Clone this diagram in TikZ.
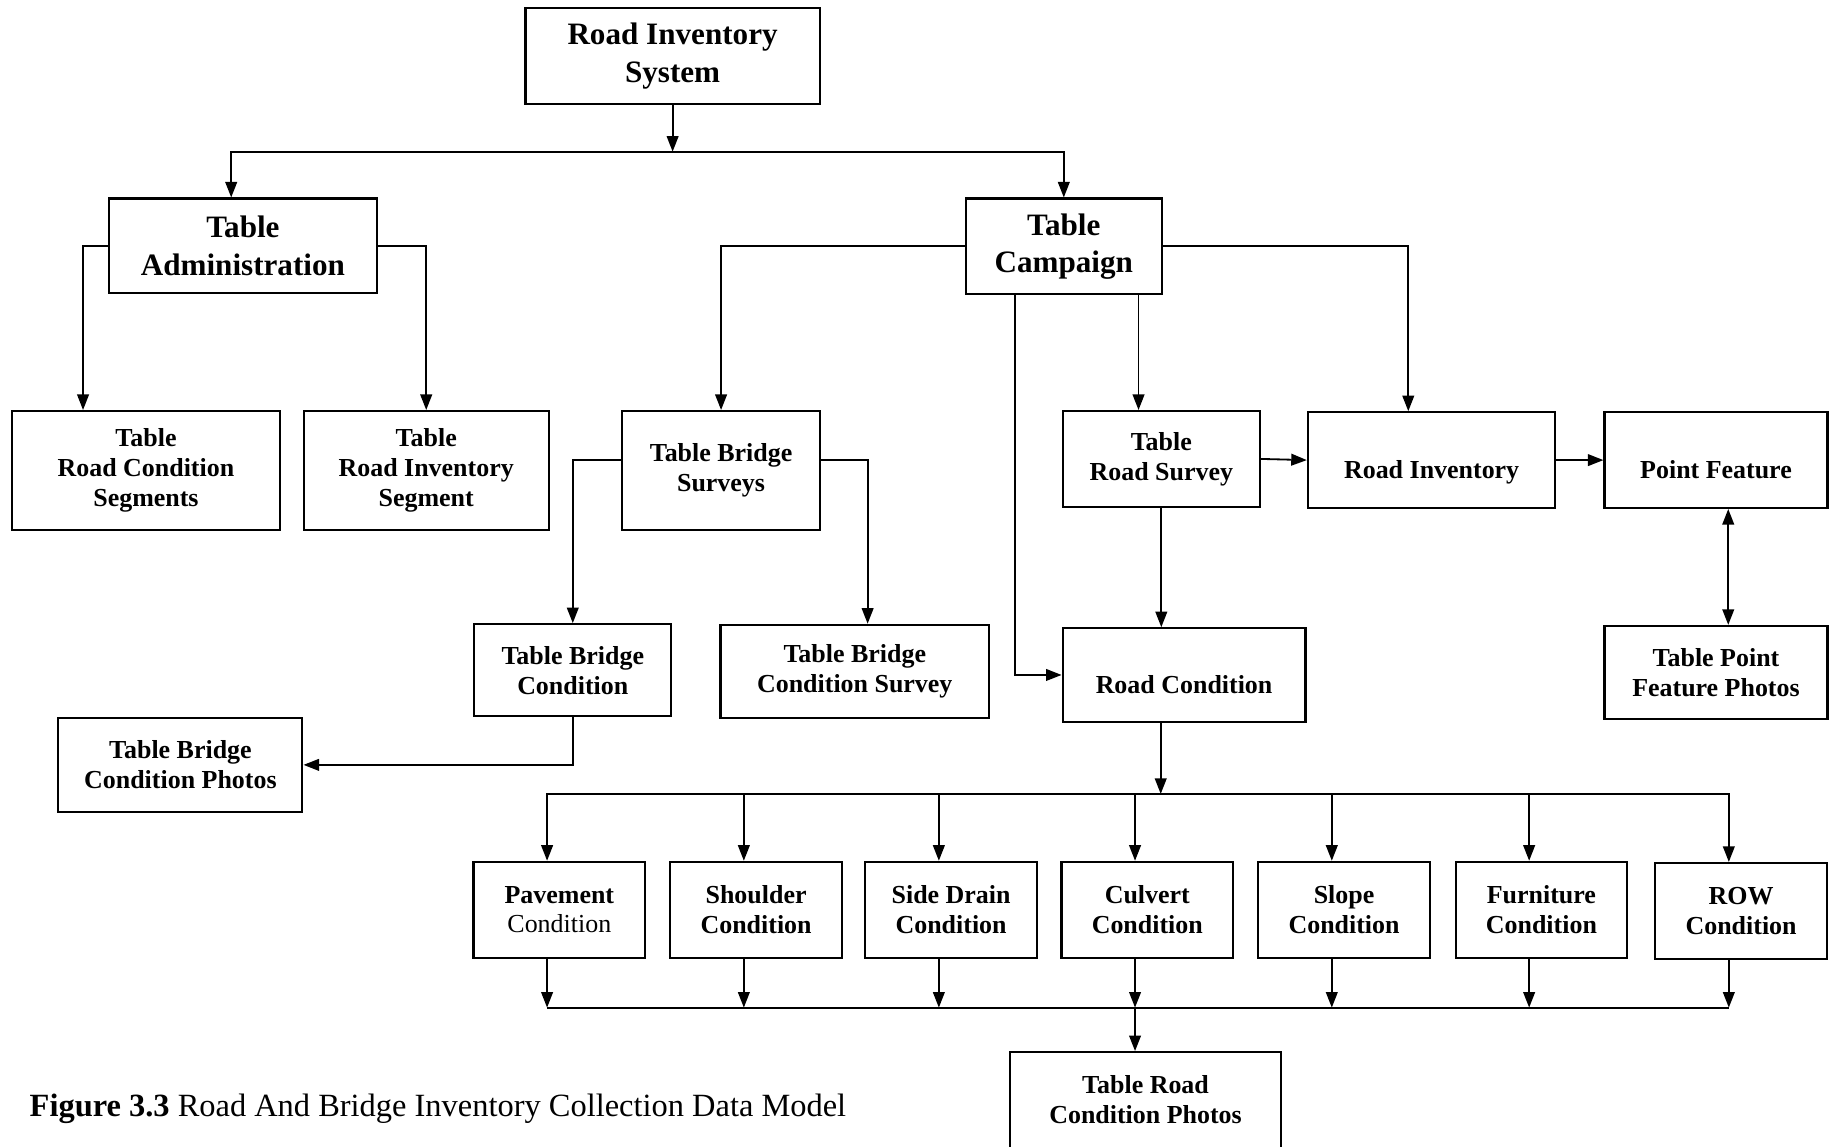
\documentclass[tikz,border=0pt]{standalone}
\usepackage{fontspec}
\setmainfont{Liberation Serif}
\usetikzlibrary{arrows.meta,calc}
\tikzset{
  rbox/.style={draw,line width=0.8pt,align=center,inner sep=2pt,
    font=\fontsize{10}{11.5}\selectfont\bfseries},
  rbig/.style={rbox,font=\fontsize{12}{14.4}\selectfont\bfseries},
  rone/.style={rbox,text height=16pt,text depth=2pt},
  rcnd/.style={rbox,minimum width=66.15pt,minimum height=36.9pt},
  rflow/.style={-{Triangle[length=6pt,width=4.5pt]},line width=0.7pt},
  rboth/.style={{Triangle[length=6pt,width=4.5pt]}-{Triangle[length=6pt,width=4.5pt]},line width=0.7pt},
  rline/.style={line width=0.7pt},
}
\begin{document}
\begin{tikzpicture}[x=0.45pt,y=-0.45pt]
\useasboundingbox (0,0) rectangle (1568,982);
% top levels
\node[rbig,minimum width=113.4pt,minimum height=36.9pt] (sys) at (576,48) {Road Inventory\\System};
\node[rbig,minimum width=103.5pt,minimum height=36.45pt] (admin) at (208,210.5) {Table\\Administration};
\node[rbig,minimum width=75.6pt,minimum height=36.9pt] (camp) at (911,211) {Table\\Campaign};
\node[rbox,minimum width=103.5pt,minimum height=45.9pt] (rcseg) at (125,403) {Table\\Road Condition\\Segments};
\node[rbox,minimum width=94.5pt,minimum height=45.9pt] (riseg) at (365,403) {Table\\Road Inventory\\Segment};
\node[rbox,minimum width=76.05pt,minimum height=45.9pt] (bsurv) at (617.5,403) {Table Bridge\\Surveys};
\node[rbox,minimum width=76.05pt,minimum height=36.9pt] (rsurv) at (994.5,393) {Table\\Road Survey};
\node[rone,minimum width=95.4pt,minimum height=36.9pt] (rinv) at (1226,394) {Road Inventory};
\node[rone,minimum width=85.95pt,minimum height=36.9pt] (pfeat) at (1469.5,394) {Point Feature};
\node[rbox,minimum width=85.95pt,minimum height=36pt] (pfphoto) at (1469.5,576) {Table Point\\Feature Photos};
\node[rbox,minimum width=76.05pt,minimum height=35.55pt] (bcond) at (490.5,574) {Table Bridge\\Condition};
\node[rbox,minimum width=103.5pt,minimum height=36pt] (bcsurv) at (732,575) {Table Bridge\\Condition Survey};
\node[rone,minimum width=93.6pt,minimum height=36pt] (rcond) at (1014,578) {Road Condition};
\node[rbox,minimum width=94.05pt,minimum height=36pt] (bcphoto) at (154.5,655) {Table Bridge\\Condition Photos};
% condition row
\node[rcnd] (pave) at (479,779) {Pavement\\{\mdseries Condition}};
\node[rcnd] (shld) at (647.5,779) {Shoulder\\Condition};
\node[rcnd] (sdrn) at (814.5,779) {Side Drain\\Condition};
\node[rcnd] (culv) at (982.5,779) {Culvert\\Condition};
\node[rcnd] (slope) at (1151,779) {Slope\\Condition};
\node[rcnd] (furn) at (1320,779) {Furniture\\Condition};
\node[rcnd] (row) at (1491,780) {ROW\\Condition};
\node[rbox,minimum width=104.4pt,minimum height=36.9pt] (rcphoto) at (981,942) {Table Road\\Condition Photos};
\node[anchor=base west,inner sep=0pt,font=\fontsize{12.5}{15}\selectfont] (cap) at (25,956) {\textbf{Figure 3.3} Road And Bridge Inventory Collection Data Model};

\coordinate (tbus) at ($(sys.south)+(0,40)$);
\coordinate (cbus) at ($(rcond.south)+(-20,61)$);
\coordinate (lbus) at ($(culv.south)+(-10.5,42)$);
\coordinate (ctap) at ($(camp.south)+(64,0)$);

\draw[rflow] (sys.south) -- (tbus);
\draw[rflow] (tbus) -| ($(admin.north)+(-10,0)$);
\draw[rflow] (tbus) -| (camp.north);
\draw[rflow] (admin.west) -| ($(rcseg.north west)+(62,0)$);
\draw[rflow] (admin.east) -| (riseg.north);
\draw[rflow] (camp.west) -| (bsurv.north);
\draw[rflow] (ctap) -- (ctap |- rsurv.north);
\draw[rflow] (camp.east) -| ($(rinv.north)+(-20,0)$);
\draw[rflow] ($(camp.south)+(-42,0)$) |- (rcond.west);
\draw[rflow] (rsurv.east) -- (rinv.west);
\draw[rflow] (rinv.east) -- (pfeat.west);
\draw[rboth] ($(pfeat.south)+(10.5,0)$) -- ($(pfphoto.north)+(10.5,0)$);
\draw[rflow] (rsurv.south) -- (rsurv.south |- rcond.north);
\draw[rflow] ($(bsurv.west)+(0,-9)$) -| (bcond.north);
\draw[rflow] ($(bsurv.east)+(0,-9)$) -| ($(bcsurv.north)+(11,0)$);
\draw[rflow] (bcond.south) |- (bcphoto.east);
\draw[rflow] ($(rcond.south)+(-20,0)$) -- (cbus);
% fan out to conditions
\draw[rflow] (cbus) -| ($(pave.north)+(-10.5,0)$);
\draw[rflow] (cbus) -| ($(shld.north)+(-10.5,0)$);
\draw[rflow] (cbus) -| ($(sdrn.north)+(-10.5,0)$);
\draw[rflow] (cbus) -| ($(culv.north)+(-10.5,0)$);
\draw[rflow] (cbus) -| ($(slope.north)+(-10.5,0)$);
\draw[rflow] (cbus) -| ($(furn.north)+(-10.5,0)$);
\draw[rflow] (cbus) -| ($(row.north)+(-10.5,0)$);
% collect into photos
\draw[rline] ($(pave.south)+(-10.5,42)$) -- ($(row.south)+(-10.5,41)$);
\draw[rflow] ($(pave.south)+(-10.5,0)$) -- ++(0,42);
\draw[rflow] ($(shld.south)+(-10.5,0)$) -- ++(0,42);
\draw[rflow] ($(sdrn.south)+(-10.5,0)$) -- ++(0,42);
\draw[rflow] ($(culv.south)+(-10.5,0)$) -- ++(0,42);
\draw[rflow] ($(slope.south)+(-10.5,0)$) -- ++(0,42);
\draw[rflow] ($(furn.south)+(-10.5,0)$) -- ++(0,42);
\draw[rflow] ($(row.south)+(-10.5,0)$) -- ++(0,41);
\draw[rflow] (lbus) -- (lbus |- rcphoto.north);
\end{tikzpicture}
\end{document}
